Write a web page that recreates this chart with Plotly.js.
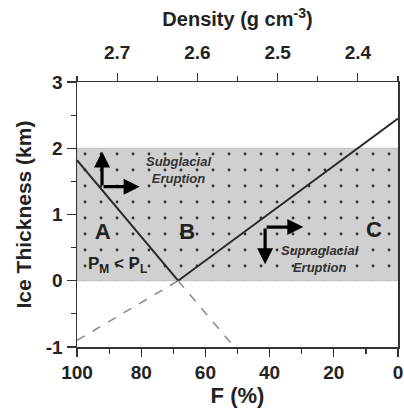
<!DOCTYPE html>
<html><head><meta charset="utf-8">
<script src="https://cdn.plot.ly/plotly-3.0.1.min.js"></script>
<style>html,body{margin:0;padding:0;background:#fff}#chart{width:404px;height:417px}</style>
</head><body><div id="chart"></div>
<script>
// Data
const solidF = [100, 68.5, 0];
const solidH = [1.82, 0, 2.45];
const dashLeftF = [100, 68.5];
const dashLeftH = [-0.9, 0];
const dashRightF = [68.5, 51];
const dashRightH = [0, -1];
const zoneF = [100, 0, 0, 100, 100];
const zoneH = [0, 0, 2, 2, 0];
const fTickVals = [100, 80, 60, 40, 20, 0];
const fTickText = ['100', '80', '60', '40', '20', '0'];
const densTickVals = [2.7, 2.6, 2.5, 2.4];
const densTickText = ['2.7', '2.6', '2.5', '2.4'];
const hTickVals = [3, 2, 1, 0, -1];
const hTickText = ['3', '2', '1', '0', '-1'];
const regionLabels = ['A', 'B', 'C'];
const regionF = [92, 65.7, 7.5];
const regionH = [0.72, 0.72, 0.74];

const FONT = 'Liberation Sans, Arial, sans-serif';

const traces = [
  {x: zoneF, y: zoneH, type: 'scatter', mode: 'lines', fill: 'toself',
   fillcolor: '#d0d0d0', line: {width: 0.8, color: '#b8b8b8'},
   fillpattern: {shape: '.', bgcolor: '#d0d0d0', fgcolor: '#333', size: 16, solidity: 0.025},
   hoverinfo: 'skip', showlegend: false},
  {x: solidF, y: solidH, type: 'scatter', mode: 'lines', line: {color: '#2a2a2a', width: 2}, showlegend: false},
  {x: dashLeftF, y: dashLeftH, type: 'scatter', mode: 'lines', line: {color: '#888', width: 1.5, dash: 'dash'}, showlegend: false},
  {x: dashRightF, y: dashRightH, type: 'scatter', mode: 'lines', line: {color: '#888', width: 1.5, dash: 'dash'}, showlegend: false},
  {x: regionF, y: regionH, type: 'scatter', mode: 'text', text: regionLabels,
   textfont: {family: FONT, size: 22, weight: 'bold', color: '#222'}, showlegend: false},
  {x: [2.6], y: [0], xaxis: 'x2', type: 'scatter', mode: 'markers', marker: {opacity: 0}, showlegend: false, hoverinfo: 'skip'}
];

function arrow(x, y, ax, ay) {
  return {x: x, y: y, ax: ax, ay: ay, xref: 'x', yref: 'y', axref: 'x', ayref: 'y',
    text: '', showarrow: true, arrowhead: 2, arrowsize: 1, arrowwidth: 3.2, arrowcolor: '#000'};
}

const tickFont = {family: FONT, size: 19, weight: 'bold', color: '#222'};

const layout = {
  width: 404, height: 417,
  margin: {l: 77, r: 6, t: 82, b: 70},
  paper_bgcolor: '#fff', plot_bgcolor: '#fff',
  font: {family: FONT, color: '#222'},
  xaxis: {range: [100, 0], tickvals: fTickVals, ticktext: fTickText,
    ticks: 'outside', ticklen: 8, tickwidth: 1.2, tickcolor: '#333',
    minor: {dtick: 10, ticks: 'outside', ticklen: 5, tickcolor: '#333'},
    showline: true, linecolor: '#333', linewidth: 1.5, mirror: true,
    showgrid: false, zeroline: false,
    tickfont: tickFont,
    title: {text: 'F (%)', font: {family: FONT, size: 22, weight: 'bold', color: '#222'}, standoff: 2}},
  xaxis2: {overlaying: 'x', side: 'top', range: [2.75, 2.35], tickvals: densTickVals, ticktext: densTickText,
    ticks: 'outside', ticklen: 8, tickwidth: 1.2, tickcolor: '#333', ticklabelstandoff: 6,
    minor: {dtick: 0.05, ticks: 'outside', ticklen: 5, tickcolor: '#333'},
    showline: false, showgrid: false, zeroline: false,
    tickfont: tickFont,
    title: {text: 'Density (g cm<sup>-3</sup>)', font: {family: FONT, size: 20, weight: 'bold', color: '#222'}, standoff: 10}},
  yaxis: {range: [-1, 3], tickvals: hTickVals, ticktext: hTickText,
    ticks: 'outside', ticklen: 9, tickwidth: 1.2, tickcolor: '#333',
    minor: {dtick: 0.5, ticks: 'outside', ticklen: 5, tickcolor: '#333'},
    showline: true, linecolor: '#333', linewidth: 1.5, mirror: true,
    showgrid: false, zeroline: false,
    tickfont: tickFont,
    title: {text: 'Ice Thickness (km)', font: {family: FONT, size: 21, weight: 'bold', color: '#222'}, standoff: 8}},
  annotations: [
    arrow(92.2, 1.95, 92.2, 1.42),
    arrow(80.5, 1.42, 92.2, 1.42),
    arrow(29.5, 0.81, 41.4, 0.81),
    arrow(41.4, 0.25, 41.4, 0.81),
    {x: 68.5, y: 1.67, xref: 'x', yref: 'y', showarrow: false,
     text: '<b><i>Subglacial<br>Eruption</i></b>', align: 'center',
     font: {family: FONT, size: 13, color: '#333'}},
    {x: 24.3, y: 0.33, xref: 'x', yref: 'y', showarrow: false,
     text: '<b><i>Supraglacial<br>Eruption</i></b>', align: 'center',
     font: {family: FONT, size: 13, color: '#333'}},
    {x: 87.5, y: 0.24, xref: 'x', yref: 'y', showarrow: false,
     text: '<b>P<sub>M</sub> < P<sub>L</sub></b>',
     font: {family: FONT, size: 17, color: '#222'}}
  ]
};

Plotly.newPlot('chart', traces, layout, {displayModeBar: false, staticPlot: true});
</script></body></html>
